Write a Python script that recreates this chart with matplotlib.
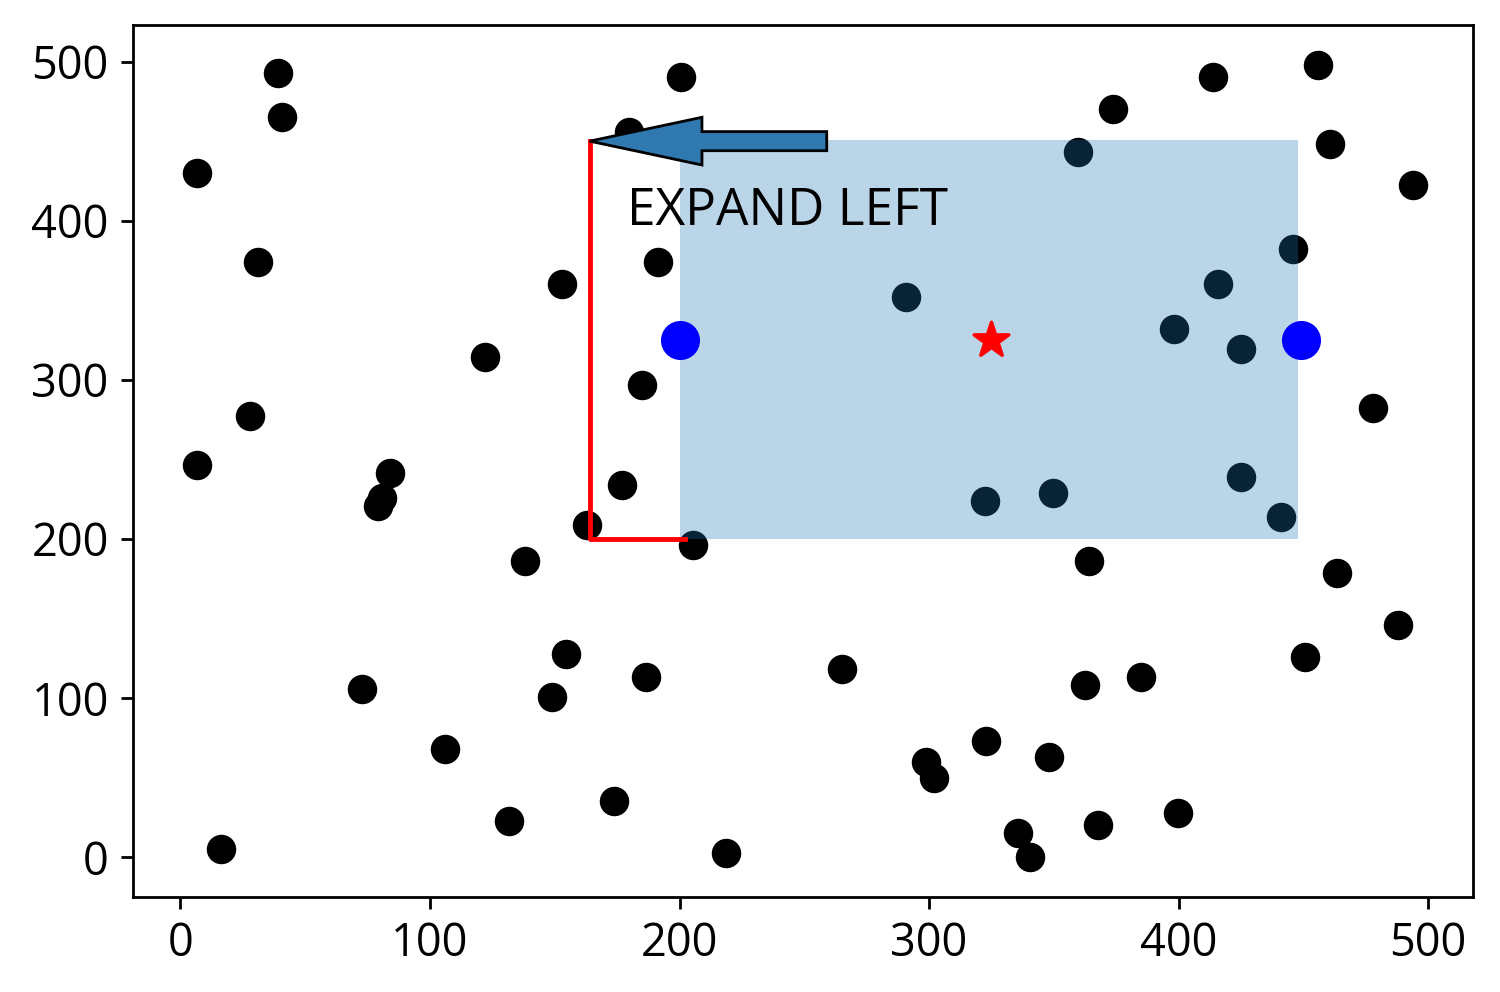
import matplotlib
matplotlib.use("Agg")
import matplotlib.pyplot as plt
from matplotlib.patches import Rectangle

plt.rcParams['font.family'] = ['Open Sans', 'DejaVu Sans']

xs = [6.8, 38.9, 40.5, 30.9, 27.7, 6.8, 16.4, 72.6, 79, 80.6, 83.8, 106, 122, 131.5,
      138, 152.8, 149, 154.4, 162.8, 173.6, 176.8, 179.6, 184.8, 186.4, 191.3, 200.5,
      205.3, 218.5, 265, 290.7, 298.7, 302, 322.4, 322.8, 335.6, 340.4, 348, 349.6,
      359.7, 362.5, 364, 367.7, 373.7, 385, 398, 399.8, 413.8, 415.8, 425, 425, 441,
      445.9, 450.7, 456, 460.7, 463.5, 478, 488, 494]
ys = [430, 493, 465, 374, 277, 246.5, 5, 105.7, 221, 226, 241.5, 68, 314.5, 22.6,
      186, 360, 100.6, 127.7, 208.8, 35, 234, 456, 297, 113, 374, 490.6,
      196, 2.5, 118, 352, 60, 50, 224, 73, 15, 0, 63, 229,
      443, 108, 186, 20, 470, 113, 332, 27.7, 490.6, 360, 319.5, 239, 214,
      382, 125.8, 498, 448, 178.6, 282, 146, 422.6]

rect_x0, rect_y0, rect_x1, rect_y1 = 200, 200, 448, 451
edge_x = [200, 449]
edge_y = [325, 325]
center = (325, 325)
line_x = [164, 164, 202]
line_y = [450, 200, 200]
arrow_start = (259, 450)
arrow_end = (164, 450)
label = "EXPAND LEFT"

fig = plt.figure(figsize=(6, 3.968), dpi=250)
ax = fig.add_axes([0.0887, 0.0958, 0.8933, 0.879])

ax.scatter(xs, ys, s=56, color='black', zorder=2)
ax.add_patch(Rectangle((rect_x0, rect_y0), rect_x1 - rect_x0, rect_y1 - rect_y0,
                       facecolor='#1f77b4', alpha=0.3, edgecolor='none', zorder=3))
ax.scatter(edge_x, edge_y, s=105, color='blue', zorder=4)
ax.scatter([center[0]], [center[1]], s=110, marker='*', color='red', zorder=4)
ax.plot(line_x, line_y, color='red', lw=1.4, zorder=4)
ax.arrow(arrow_start[0], arrow_start[1], arrow_end[0] - arrow_start[0], 0,
         width=12, head_width=30, head_length=45, length_includes_head=True,
         facecolor='#2f79b0', edgecolor='black', lw=0.8, zorder=5)
ax.text(179, 397, label, fontsize=14.8, zorder=6)

ax.set_xlim(-19, 518)
ax.set_ylim(-25, 523)
ax.set_xticks([0, 100, 200, 300, 400, 500])
ax.set_yticks([0, 100, 200, 300, 400, 500])
ax.tick_params(labelsize=13)

fig.savefig('out.png', dpi=250)
